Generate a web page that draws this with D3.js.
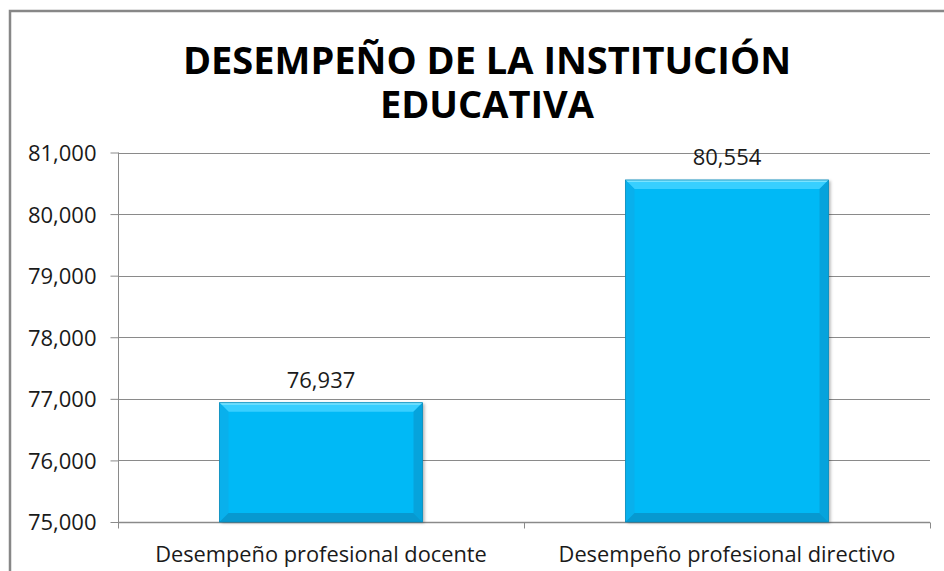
<!DOCTYPE html>
<html><head><meta charset="utf-8">
<script src="https://cdn.jsdelivr.net/npm/d3@7"></script>
<style>body{margin:0;background:#fff}svg{display:block}</style>
</head><body>
<svg id="chart" width="944" height="571"></svg>
<script>
const titleLines = ["DESEMPEÑO DE LA INSTITUCIÓN", "EDUCATIVA"];
const categories = ["Desempeño profesional docente", "Desempeño profesional directivo"];
const values = [76.937, 80.554];
const valueLabels = ["76,937", "80,554"];
const yTicks = [75, 76, 77, 78, 79, 80, 81];
const yTickLabels = ["75,000", "76,000", "77,000", "78,000", "79,000", "80,000", "81,000"];

const svg = d3.select("#chart");
const m = {left: 118, right: 930, top: 152.5, bottom: 522};
const font = "'Open Sans', sans-serif";

// chart border
svg.append("rect").attr("x", 10).attr("y", 11).attr("width", 1000).attr("height", 700)
  .attr("fill", "#fff").attr("stroke", "#878787").attr("stroke-width", 2.5);

// title
svg.append("g").selectAll("text").data(titleLines).join("text")
  .attr("x", 487).attr("y", (d, i) => 74 + i * 44)
  .attr("text-anchor", "middle").attr("font-family", font).attr("font-weight", 700)
  .attr("font-size", 38).attr("fill", "#000").text(d => d);

const x = d3.scaleBand().domain(categories).range([m.left, m.right]).paddingInner(0.5).paddingOuter(0.25);
const y = d3.scaleLinear().domain([75, 81]).range([m.bottom, m.top]);

// gridlines
svg.append("g").selectAll("line").data(yTicks).join("line")
  .attr("x1", m.left).attr("x2", m.right)
  .attr("y1", d => Math.round(y(d)) + 0.5).attr("y2", d => Math.round(y(d)) + 0.5)
  .attr("stroke", "#8a8a8a").attr("stroke-width", 1);

// y axis
const yAxis = d3.axisLeft(y).tickValues(yTicks).tickFormat((d, i) => yTickLabels[i]).tickSize(8).tickPadding(14);
const gy = svg.append("g").attr("transform", `translate(${m.left + 0.5},0)`).call(yAxis);
gy.select(".domain").attr("stroke", "#8a8a8a").attr("d", `M0,${m.top}V${m.bottom + 5}`);
gy.selectAll(".tick line").attr("stroke", "#8a8a8a");
gy.selectAll(".tick text").attr("font-family", font).attr("font-size", 22).attr("fill", "#1a1a1a").attr("dy", "0.36em");

// x axis
const gx = svg.append("g").attr("transform", `translate(0,${m.bottom + 0.5})`);
gx.append("line").attr("x1", m.left).attr("x2", m.right).attr("stroke", "#8a8a8a").attr("stroke-width", 1.5);
const step = x.step();
const xTickPos = [m.left, m.left + step, m.left + 2 * step];
gx.selectAll("line.tk").data(xTickPos).join("line").attr("class", "tk")
  .attr("x1", d => d + 0.5).attr("x2", d => d + 0.5).attr("y1", 0).attr("y2", 6).attr("stroke", "#8a8a8a");
gx.selectAll("text").data(categories).join("text")
  .attr("x", d => x(d) + x.bandwidth() / 2).attr("y", 39)
  .attr("text-anchor", "middle").attr("font-family", font).attr("font-size", 21.8).attr("fill", "#1a1a1a").text(d => d);

const defs = svg.append("defs");
const f = defs.append("filter").attr("id", "sh").attr("x", "-10%").attr("y", "-10%").attr("width", "130%").attr("height", "130%");
f.append("feDropShadow").attr("dx", 2).attr("dy", 1).attr("stdDeviation", 1.5).attr("flood-color", "#000").attr("flood-opacity", 0.3);

// bars
const bars = svg.append("g").selectAll("g").data(categories).join("g");
const bv = 9;
bars.each(function(d, i) {
  const g = d3.select(this);
  const x0 = x(d), x1 = x(d) + x.bandwidth(), y0 = y(values[i]), y1 = m.bottom;
  g.append("rect").attr("x", x0).attr("y", y0).attr("width", x1 - x0).attr("height", y1 - y0)
    .attr("fill", "#05b9f6").attr("filter", "url(#sh)");
  g.append("path").attr("d", `M${x0},${y0}L${x1},${y0}L${x1 - bv},${y0 + bv}L${x0 + bv},${y0 + bv}Z`).attr("fill", "#38cfff");
  g.append("path").attr("d", `M${x0},${y0}L${x1},${y0}L${x1 - 2},${y0 + 2}L${x0 + 2},${y0 + 2}Z`).attr("fill", "#7ae3ff");
  g.append("path").attr("d", `M${x0},${y0}L${x0 + bv},${y0 + bv}L${x0 + bv},${y1 - bv}L${x0},${y1}Z`).attr("fill", "#09b0ec");
  g.append("path").attr("d", `M${x1},${y0}L${x1 - bv},${y0 + bv}L${x1 - bv},${y1 - bv}L${x1},${y1}Z`).attr("fill", "#06a3dc");
  g.append("path").attr("d", `M${x0},${y1}L${x0 + bv},${y1 - bv}L${x1 - bv},${y1 - bv}L${x1},${y1}Z`).attr("fill", "#0799d0");
  g.append("rect").attr("x", x0).attr("y", y0).attr("width", x1 - x0).attr("height", y1 - y0)
    .attr("fill", "none").attr("stroke", "#0a8ab8").attr("stroke-width", 0.8);
  g.append("text").attr("x", (x0 + x1) / 2).attr("y", y0 - 15).attr("text-anchor", "middle")
    .attr("font-family", font).attr("font-size", 22).attr("fill", "#1a1a1a").text(valueLabels[i]);
});
</script>
</body></html>
